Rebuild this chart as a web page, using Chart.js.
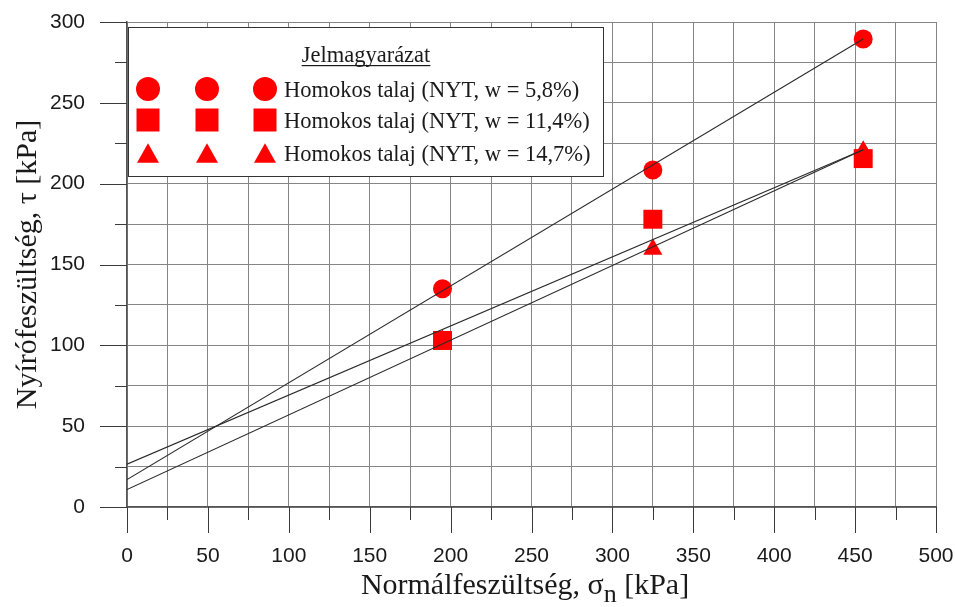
<!DOCTYPE html>
<html>
<head>
<meta charset="utf-8">
<script src="https://cdn.jsdelivr.net/npm/chart.js@4/dist/chart.umd.min.js"></script>
<style>
  html, body { margin: 0; padding: 0; background: #fff; }
  #wrap { width: 955px; height: 607px; position: relative; }
</style>
</head>
<body>
<div id="wrap"><canvas id="shear-chart"></canvas></div>
<script>
// Nyírószilárdság - három nedvességtartalom, lineáris illesztéssel
const normalStress = [195, 325, 455];
const tauDry = [135, 208.5, 289.5];      // w = 5,8%
const tauMid = [103, 178, 215.5];        // w = 11,4%
const tauWet = [103, 159.5, 220];        // w = 14,7%

const fitX = [0, 455];
const fitDry = [17, 289.5];
const fitMid = [26.5, 221];
const fitWet = [10.8, 221];

const seriesLabels = [
    'Homokos talaj (NYT, w = 5,8%)',
    'Homokos talaj (NYT, w = 11,4%)',
    'Homokos talaj (NYT, w = 14,7%)'
];
const legendTitle = 'Jelmagyarázat';
const xTitle = ['Normálfeszültség, σ', 'n', ' [kPa]'];
const yTitle = 'Nyírófeszültség, τ [kPa]';

const RED = '#ff0000';
const SERIF = '"Liberation Serif", "Times New Roman", serif';
const SANS = '"Liberation Sans", Arial, sans-serif';

function toPoints(xs, ys) {
    return xs.map((x, i) => ({ x: x, y: ys[i] }));
}

function fitLine(ys) {
    return {
        type: 'line',
        data: toPoints(fitX, ys),
        borderColor: '#2a2a2a',
        borderWidth: 1.1,
        pointRadius: 0,
        fill: false,
        order: 0
    };
}

function drawMarker(ctx, style, x, y, s) {
    ctx.fillStyle = RED;
    ctx.beginPath();
    if (style === 'circle') {
        ctx.arc(x, y, s / 2, 0, Math.PI * 2);
    } else if (style === 'rect') {
        ctx.rect(x - s / 2, y - s / 2, s, s);
    } else {
        const h = s * 0.88;
        ctx.moveTo(x, y - h / 2);
        ctx.lineTo(x + s / 2, y + h / 2);
        ctx.lineTo(x - s / 2, y + h / 2);
        ctx.closePath();
    }
    ctx.fill();
}

// a tengelyek ne kérjenek extra helyet a szélső feliratoknak
function fixPadding(scale) {
    scale.paddingTop = 0;
    scale.paddingBottom = 0;
    scale.paddingLeft = 0;
    scale.paddingRight = 0;
}

// kis és nagy osztásjelek a tengelyeken kívül
const tickMarks = {
    id: 'tickMarks',
    afterDraw(chart) {
        const ctx = chart.ctx;
        const xs = chart.scales.x, ys = chart.scales.y;
        ctx.save();
        ctx.strokeStyle = '#3a3a3a';
        ctx.lineWidth = 1;
        xs.ticks.forEach((t) => {
            const px = Math.round(xs.getPixelForValue(t.value)) + 0.5;
            const len = t.value % 50 === 0 ? 26 : 13;
            ctx.beginPath();
            ctx.moveTo(px, ys.bottom);
            ctx.lineTo(px, ys.bottom + len);
            ctx.stroke();
        });
        ys.ticks.forEach((t) => {
            const py = Math.round(ys.getPixelForValue(t.value)) + 0.5;
            const len = t.value % 50 === 0 ? 27 : 12;
            ctx.beginPath();
            ctx.moveTo(xs.left - len, py);
            ctx.lineTo(xs.left, py);
            ctx.stroke();
        });
        ctx.restore();
    }
};

// x tengely felirat alsó indexszel
const xAxisTitle = {
    id: 'xAxisTitle',
    afterDraw(chart) {
        const ctx = chart.ctx;
        ctx.save();
        ctx.fillStyle = '#1a1a1a';
        ctx.textBaseline = 'alphabetic';
        ctx.font = '30px ' + SERIF;
        const w0 = ctx.measureText(xTitle[0]).width;
        const w2 = ctx.measureText(xTitle[2]).width;
        ctx.font = '26px ' + SERIF;
        const w1 = ctx.measureText(xTitle[1]).width;
        let x = 525 - (w0 + w1 + w2) / 2;
        const base = 594;
        ctx.font = '30px ' + SERIF;
        ctx.fillText(xTitle[0], x, base);
        x += w0;
        ctx.font = '26px ' + SERIF;
        ctx.fillText(xTitle[1], x, base + 8);
        x += w1;
        ctx.font = '30px ' + SERIF;
        ctx.fillText(xTitle[2], x, base);
        ctx.restore();
    }
};

// jelmagyarázat doboz
const legendBox = {
    id: 'legendBox',
    afterDatasetsDraw(chart) {
        const ctx = chart.ctx;
        const box = { l: 128, t: 27, r: 604, b: 177 };
        ctx.save();
        ctx.fillStyle = '#fff';
        ctx.fillRect(box.l, box.t, box.r - box.l, box.b - box.t);
        ctx.strokeStyle = '#333';
        ctx.lineWidth = 1;
        ctx.strokeRect(box.l + 0.5, box.t + 0.5, box.r - box.l - 1, box.b - box.t - 1);

        ctx.fillStyle = '#1a1a1a';
        ctx.font = '22.5px ' + SERIF;
        ctx.textBaseline = 'alphabetic';
        const tw = ctx.measureText(legendTitle).width;
        const tx = 366 - tw / 2;
        ctx.fillText(legendTitle, tx, 62);
        ctx.fillRect(tx, 65, tw, 1.2);

        const styles = ['circle', 'rect', 'triangle'];
        const rows = [89, 120, 153];
        const sizes = [24, 23, 22];
        const cols = [148, 207, 265];
        styles.forEach((st, i) => {
            cols.forEach((cx) => drawMarker(ctx, st, cx, rows[i], sizes[i]));
            ctx.fillStyle = '#1a1a1a';
            ctx.fillText(seriesLabels[i], 284, rows[i] + 8);
        });
        ctx.restore();
    }
};

const gridColor = '#858585';

new Chart(document.getElementById('shear-chart'), {
    type: 'scatter',
    data: {
        datasets: [
            fitLine(fitDry),
            fitLine(fitMid),
            fitLine(fitWet),
            {
                label: seriesLabels[0],
                data: toPoints(normalStress, tauDry),
                pointStyle: 'circle',
                pointRadius: 9.5,
                backgroundColor: RED,
                borderWidth: 0,
                order: 1
            },
            {
                label: seriesLabels[1],
                data: toPoints(normalStress, tauMid),
                pointStyle: 'rect',
                pointRadius: 13.4,
                backgroundColor: RED,
                borderWidth: 0,
                order: 1
            },
            {
                label: seriesLabels[2],
                data: toPoints(normalStress, tauWet),
                pointStyle: 'triangle',
                pointRadius: 11,
                backgroundColor: RED,
                borderWidth: 0,
                order: 2
            }
        ]
    },
    options: {
        responsive: true,
        maintainAspectRatio: false,
        animation: false,
        layout: { padding: { top: 22, right: 19, left: 0, bottom: 0 } },
        plugins: {
            legend: { display: false },
            tooltip: { enabled: false }
        },
        scales: {
            x: {
                type: 'linear',
                min: 0,
                max: 500,
                afterFit(scale) { scale.height = 100; fixPadding(scale); },
                ticks: {
                    stepSize: 25,
                    padding: 37,
                    maxRotation: 0,
                    autoSkip: false,
                    color: '#1a1a1a',
                    font: { family: SANS, size: 21 },
                    callback: (v) => (v % 50 === 0 ? String(v) : '')
                },
                grid: { color: gridColor, lineWidth: 1, drawTicks: false },
                border: { color: '#555', width: 1.5 }
            },
            y: {
                type: 'linear',
                min: 0,
                max: 300,
                afterFit(scale) { scale.width = 127; fixPadding(scale); },
                ticks: {
                    stepSize: 25,
                    padding: 42,
                    autoSkip: false,
                    color: '#1a1a1a',
                    font: { family: SANS, size: 21 },
                    callback: (v) => (v % 50 === 0 ? String(v) : '')
                },
                grid: { color: gridColor, lineWidth: 1, drawTicks: false },
                border: { color: '#555', width: 1.5 },
                title: {
                    display: true,
                    text: yTitle,
                    color: '#1a1a1a',
                    font: { family: SERIF, size: 30 },
                    padding: { top: 10, bottom: 0 }
                }
            }
        }
    },
    plugins: [tickMarks, xAxisTitle, legendBox]
});
</script>
</body>
</html>
